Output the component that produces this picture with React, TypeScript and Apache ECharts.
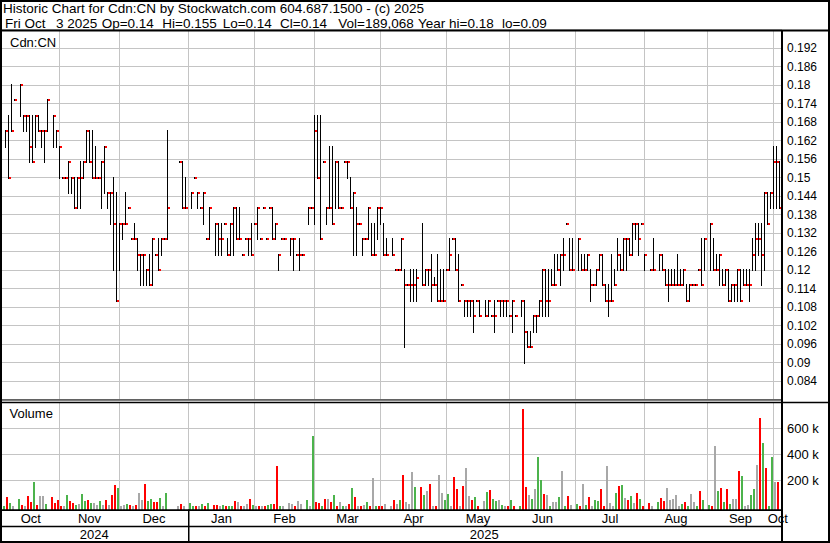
import React, { useEffect, useRef } from "react";
import * as echarts from "echarts";

// ---- axis / category data ----
const BAR_COUNT = 259; // trading days shown
const MONTH_LABELS = ["Oct", "Nov", "Dec", "Jan", "Feb", "Mar", "Apr", "May", "Jun", "Jul", "Aug", "Sep", "Oct"];
const MONTH_START = [0, 18, 38, 61, 83, 103, 125, 147, 168, 190, 213, 234, 256];
const YEAR_LABELS = ["2024", "2025"];
const YEAR_START = [0, 61];
const PRICE_TICK_LABELS = ["0.084", "0.09", "0.096", "0.102", "0.108", "0.114", "0.12", "0.126", "0.132", "0.138", "0.144", "0.15", "0.156", "0.162", "0.168", "0.174", "0.18", "0.186", "0.192"];
const VOLUME_TICK_LABELS = ["200 k", "400 k", "600 k"];

// ---- price data, in thousandths of a dollar (null = no trade) ----
const HIGH_MILLS = [
  165, 170, 180, 175, null, 180, 170, 170, 170, 170,
  170, 170, 165, 165, 175, null, 170, 165, 160, 150,
  150, 155, 150, 150, 150, 155, 155, 165, 165, 165,
  160, 150, 155, 160, 145, 145, 150, 145, 135, 135,
  145, 140, 130, 135, 130, 125, 125, 120, 125, 130,
  125, 130, 130, 130, 165, null, null, null, 155, 155,
  150, null, 145, 150, 145, 140, 145, 130, 140, null,
  135, 135, 135, 135, 130, 135, 140, 140, 140, 125,
  130, 130, 135, 135, 140, 130, 140, 130, 140, 140,
  135, 125, 130, 130, null, 130, 130, 125, 130, 125,
  null, 140, 140, 170, 170, 170, 155, 140, 160, 160,
  155, 155, 140, 155, 155, 150, 145, 140, 135, 130,
  130, 140, 135, 135, 140, 140, 135, 130, null, 130,
  120, 120, 130, 120, 115, 120, 120, 120, null, 135,
  120, 120, 125, 117.5, 125, 120, 120, 120, 130, 130,
  130, 125, 115, 110, 110, 110, 110, 110, 110, null,
  110, 110, 105, 110, 110, 110, 110, 110, 105, 110,
  105, null, 110, 110, 100, 100, 105, 105, 110, 120,
  120, 120, 120, 125, 125, 125, 130, 135, 130, 130,
  null, 130, 125, 125, 125, 120, 115, 120, 125, 125,
  115, 115, 125, 120, 130, 125, 130, 130, 130, 135,
  135, 135, 135, 125, null, 120, 130, null, 125, 125,
  120, 120, 120, 120, 125, 120, 120, 115, 115, 115,
  115, 120, 130, 130, null, 135, 130, 125, 125, 120,
  120, 120, 115, 115, 120, 120, 120, 120, 120, 130,
  135, 135, 135, 145, 145, 145, 160, 160, 155,
];
const LOW_MILLS = [
  160, 150, 165, 175, null, 170, 165, 165, 155, 155,
  160, 165, 160, 155, 165, null, 160, 160, 150, 150,
  150, 145, 145, 140, 140, 140, 150, 155, 155, 150,
  150, 150, 140, 145, 140, 135, 120, 110, 120, 130,
  135, 140, 130, 130, 120, 115, 115, 115, 115, 115,
  125, 120, 125, 130, 130, null, null, null, 155, 140,
  140, null, 140, 150, 140, 140, 135, 130, 130, null,
  125, 125, 125, 135, 125, 125, 125, 130, 130, 125,
  130, 125, 125, 135, 130, 130, 140, 130, 140, 130,
  130, 120, 130, 130, null, 125, 120, 125, 120, 125,
  null, 135, 140, 135, 150, 130, 155, 135, 140, 135,
  140, 140, 140, 155, 150, 140, 125, 125, 135, 125,
  130, 130, 125, 125, 130, 135, 125, 125, null, 125,
  120, 120, 120, 95, 115, 110, 110, 110, null, 115,
  115, 115, 110, 115, 110, 110, 110, 120, 120, 130,
  120, 110, 115, 105, 105, 105, 100, 110, 105, null,
  105, 105, 105, 100, 110, 105, 105, 105, 105, 100,
  105, null, 105, 90, 95, 95, 100, 100, 105, 105,
  105, 105, 115, 115, 120, 115, 120, 135, 120, 120,
  null, 120, 120, 120, 120, 110, 115, 115, 120, 115,
  110, 105, 110, 115, 120, 120, 120, 120, 125, 125,
  130, 125, 135, 120, null, 120, 120, null, 120, 120,
  115, 110, 115, 115, 115, 115, 115, 110, 110, 115,
  115, 120, 115, 120, null, 120, 120, 120, 115, 115,
  115, 110, 110, 110, 110, 110, 115, 115, 110, 120,
  120, 125, 115, 120, 135, 140, 140, 140, 140,
];
const CLOSE_MILLS = [
  165, 150, 165, 175, null, 180, 170, 170, 160, 155,
  170, 165, 165, 165, 175, null, 170, 165, 160, 150,
  150, 155, 150, 140, 150, 150, 155, 165, 155, 150,
  150, 150, 155, 160, 145, 145, 135, 110, 135, 135,
  135, 140, 130, 130, 125, 125, 125, 120, 115, 130,
  125, 120, 130, 130, 140, null, null, null, 155, 140,
  140, null, 145, 150, 145, 140, 145, 130, 140, null,
  135, 130, 130, 135, 125, 135, 140, 130, 130, 125,
  130, 130, 125, 135, 140, 130, 140, 130, 140, 130,
  135, 125, 130, 130, null, 130, 130, 125, 125, 125,
  null, 140, 140, 165, 150, 130, 155, 140, 140, 135,
  155, 140, 140, 155, 155, 140, 145, 135, 135, 130,
  130, 140, 125, 125, 140, 140, 125, 125, null, 125,
  120, 120, 130, 115, 115, 115, 115, 117.5, null, 115,
  120, 120, 115, 115, 110, 110, 110, 120, 125, 130,
  120, 110, 115, 110, 110, 110, 105, 110, 105, null,
  105, 110, 105, 105, 110, 110, 110, 110, 105, 110,
  105, null, 110, 100, 95, 95, 105, 105, 110, 120,
  110, 110, 115, 115, 120, 125, 125, 135, 120, 120,
  null, 130, 120, 120, 125, 115, 115, 120, 125, 115,
  110, 110, 110, 115, 125, 120, 130, 130, 125, 135,
  135, 130, 135, 125, null, 120, 120, null, 125, 120,
  115, 115, 115, 115, 115, 115, 120, 110, 115, 115,
  115, 120, 115, 130, null, 135, 120, 120, 125, 115,
  120, 110, 115, 115, 120, 110, 115, 115, 115, 125,
  130, 130, 125, 145, 135, 145, 155, 155, 140,
];

// ---- volume data, in thousands of shares ----
const VOLUME_K = [
  1, 72, 28, 1, null, 56, 10, 2, 79, 33,
  187, 10, 79, 79, 18, null, 72, 25, 48, 2,
  1, 87, 41, 25, 10, 18, 95, 41, 48, 25,
  25, 10, 41, 10, 48, 10, 87, 164, 141, 2,
  10, 18, 10, 1, 10, 102, 48, 172, 41, 56,
  33, 33, 64, 2, 102, null, null, null, 1, 18,
  1, null, 25, 1, 2, 1, 18, 2, 25, null,
  10, 10, 2, 10, 2, 1, 2, 41, 33, 1,
  1, 18, 56, 10, 1, 1, 1, 1, 10, 18,
  18, 313, 1, 1, null, 25, 18, 1, 41, 18,
  null, 48, 2, 541, 33, 25, 1, 56, 56, 33,
  87, 1, 33, 1, 1, 18, 141, 72, 2, 2,
  10, 33, 1, 218, 1, 1, 1, 18, null, 1,
  48, 18, 48, 241, 33, 18, 264, 148, null, 148,
  87, 118, 172, 1, 1, 241, 102, 48, 95, 1,
  225, 133, 2, 156, 295, 79, 48, 72, 2, null,
  41, 110, 125, 56, 41, 48, 10, 1, 1, 48,
  1, null, 1, 748, 148, 87, 56, 133, 379, 202,
  95, 87, 2, 33, 33, 72, 272, 1, 79, 10,
  null, 18, 1, 172, 10, 72, 1, 48, 41, 133,
  2, 310, 25, 1, 102, 156, 164, 64, 48, 79,
  25, 102, 56, 2, null, 25, 1, null, 33, 64,
  41, 141, 48, 56, 87, 2, 18, 33, 1, 95,
  33, 1, 118, 48, null, 10, 1, 464, 118, 141,
  33, 133, 18, 56, 56, 272, 233, 1, 10, 87,
  133, 318, 682, 487, 295, 1, 379, 187, 189,
];
// u = close up (green), d = close down (red), n = unchanged (grey), . = no trade
const VOLUME_DIR = [
  "udun.udndd", "udnnu.dddd", "nuddunuudu", "nnundnddun", "nudndnnduu",
  "ddunu...nd", "n.uudnudu.", "ddnuduudnd", "nndundnduu", "ddun.nndnn",
  ".unuddudnd", "udnundudnd", "nudnuddn.n", "dnudnnnu.d", "undndnnuun",
  "ddndnndud.", "nuduunundu", "d.uddnunuu", "dnunnunudn", ".udnudnuud",
  "dnnnudundu", "ndud.dn.ud", "dnnnnnudun", "nudu.udnud", "udunndunnu",
  "unduduund",
].join("");

const FONT = '"Liberation Sans", Arial, Helvetica, sans-serif';
const VOL_COLORS: Record<string, string> = { u: "#4cb34c", d: "#ff0000", n: "#a8a8a8" };

export default function App() {
  const ref = useRef<HTMLDivElement>(null);

  useEffect(() => {
    if (!ref.current) return;
    const chart = echarts.init(ref.current, undefined, { renderer: "svg" });

    const ohlc: number[][] = [];
    const vols: any[] = [];
    for (let i = 0; i < BAR_COUNT; i++) {
      const h = HIGH_MILLS[i];
      if (h != null) ohlc.push([i, h / 1000, (LOW_MILLS[i] as number) / 1000, (CLOSE_MILLS[i] as number) / 1000]);
      const v = VOLUME_K[i];
      if (v != null) vols.push({ value: [i, v * 1000], dir: VOLUME_DIR[i] });
    }
    const monthGrid = MONTH_START.slice(1).map((s) => [s, 0]);
    const monthItems = MONTH_START.map((s, k) => [s, k]);
    const yearItems = YEAR_START.map((s, k) => [s, k]);

    const gridLineSeries = (axis: number, extra: number) => ({
      type: "custom",
      xAxisIndex: axis,
      yAxisIndex: axis,
      silent: true,
      clip: false,
      z: 1,
      data: monthGrid,
      renderItem: (params: any, api: any) => {
        const cs = params.coordSys;
        const x = Math.round(api.coord([api.value(0), 0])[0] - 0.5) + 0.5;
        return {
          type: "line",
          shape: { x1: x, y1: cs.y, x2: x, y2: cs.y + cs.height + extra },
          style: { stroke: "#c4c4c4", lineWidth: 1 },
        };
      },
    });

    const option: any = {
      animation: false,
      backgroundColor: "#ffffff",
      textStyle: { fontFamily: FONT },
      grid: [
        { left: 2, top: 29.5, width: 780, height: 370 },
        { left: 2, top: 402.5, width: 780, height: 104 },
      ],
      xAxis: [0, 1].map((g) => ({
        type: "value",
        gridIndex: g,
        min: -7 / 6,
        max: 258 + 5 / 6,
        show: false,
      })),
      yAxis: [
        {
          type: "value",
          gridIndex: 0,
          position: "right",
          min: 0.078,
          max: 0.198,
          interval: 0.006,
          axisLine: { show: false },
          axisTick: { show: false },
          splitLine: { show: true, lineStyle: { color: "#c4c4c4", width: 1 } },
          axisLabel: {
            margin: 5,
            fontSize: 12,
            color: "#000",
            fontFamily: FONT,
            formatter: (v: number) => {
              const s = String(parseFloat(v.toFixed(3)));
              return PRICE_TICK_LABELS.includes(s) ? s : "";
            },
          },
        },
        {
          type: "value",
          gridIndex: 1,
          position: "right",
          min: 0,
          max: 800000,
          interval: 200000,
          axisLine: { show: false },
          axisTick: { show: false },
          splitLine: { show: true, showMinLine: false, showMaxLine: false, lineStyle: { color: "#c4c4c4", width: 1 } },
          axisLabel: {
            margin: 5,
            fontSize: 13,
            color: "#000",
            fontFamily: FONT,
            formatter: (v: number) => {
              const s = Math.round(v / 1000) + " k";
              return VOLUME_TICK_LABELS.includes(s) ? s : "";
            },
          },
        },
      ],
      series: [
        gridLineSeries(0, 0),
        gridLineSeries(1, 3),
        {
          type: "custom",
          name: "Cdn:CN",
          xAxisIndex: 0,
          yAxisIndex: 0,
          silent: true,
          clip: false,
          z: 3,
          data: ohlc,
          renderItem: (_p: any, api: any) => {
            const i = api.value(0);
            const top = api.coord([i, api.value(1)]);
            const low = api.coord([i, api.value(2)]);
            const cl = api.coord([i, api.value(3)]);
            const x = Math.round(top[0] - 0.5);
            const yTop = Math.round(top[1]) - 1;
            const yLow = Math.round(low[1]) + 1;
            const yC = Math.round(cl[1]) - 1;
            return {
              type: "group",
              children: [
                {
                  type: "rect",
                  shape: { x, y: yTop, width: 1, height: Math.max(1, yLow - yTop) },
                  style: { fill: "#000" },
                },
                {
                  type: "rect",
                  shape: { x: x + 1, y: yC, width: 2, height: 2 },
                  style: { fill: "#ff0000" },
                },
              ],
            };
          },
        },
        {
          type: "custom",
          name: "Volume",
          xAxisIndex: 1,
          yAxisIndex: 1,
          silent: true,
          clip: false,
          z: 3,
          data: vols,
          renderItem: (params: any, api: any) => {
            const i = api.value(0);
            const p = api.coord([i, api.value(1)]);
            const base = api.coord([i, 0]);
            const x = Math.round(p[0] - 0.5) - 2;
            const yTop = Math.round(p[1]);
            const yBase = Math.round(base[1] + 3);
            const dir = vols[params.dataIndex].dir;
            return {
              type: "rect",
              shape: { x, y: yTop, width: 2, height: Math.max(1, yBase - yTop) },
              style: { fill: VOL_COLORS[dir] || "#a8a8a8" },
            };
          },
        },
        {
          type: "custom",
          xAxisIndex: 1,
          yAxisIndex: 1,
          silent: true,
          clip: false,
          z: 4,
          data: monthItems,
          renderItem: (params: any, api: any) => {
            const cs = params.coordSys;
            const k = api.value(1);
            const x0 = k === 0 ? cs.x : api.coord([MONTH_START[k], 0])[0];
            const x1 = k === MONTH_START.length - 1 ? cs.x + cs.width : api.coord([MONTH_START[k + 1], 0])[0];
            return {
              type: "text",
              x: (x0 + x1) / 2,
              y: cs.y + cs.height + 12,
              style: { text: MONTH_LABELS[k], fill: "#000", font: "13px " + FONT, align: "center", verticalAlign: "middle" },
            };
          },
        },
        {
          type: "custom",
          xAxisIndex: 1,
          yAxisIndex: 1,
          silent: true,
          clip: false,
          z: 4,
          data: yearItems,
          renderItem: (params: any, api: any) => {
            const cs = params.coordSys;
            const k = api.value(1);
            const x0 = k === 0 ? cs.x : api.coord([YEAR_START[k], 0])[0];
            const x1 = k === YEAR_START.length - 1 ? cs.x + cs.width : api.coord([YEAR_START[k + 1], 0])[0];
            const children: any[] = [
              {
                type: "text",
                x: (x0 + x1) / 2 - 1,
                y: cs.y + cs.height + 28,
                style: { text: YEAR_LABELS[k], fill: "#000", font: "13px " + FONT, align: "center", verticalAlign: "middle" },
              },
            ];
            if (k > 0) {
              const xs = Math.round(x0 - 0.5);
              children.push({
                type: "rect",
                shape: { x: xs, y: cs.y + cs.height + 3, width: 1.5, height: 32 },
                style: { fill: "#000" },
              });
            }
            return { type: "group", children };
          },
        },
      ],
      graphic: [
        // frame and pane separators
        { type: "rect", z: 10, silent: true, shape: { x: 1, y: 1, width: 828, height: 541 }, style: { fill: "none", stroke: "#000", lineWidth: 2 } },
        { type: "rect", z: 10, silent: true, shape: { x: 0, y: 29.5, width: 830, height: 2 }, style: { fill: "#000" } },
        { type: "rect", z: 10, silent: true, shape: { x: 781, y: 30, width: 2, height: 513 }, style: { fill: "#000" } },
        { type: "rect", z: 10, silent: true, shape: { x: 0, y: 399.5, width: 782, height: 1 }, style: { fill: "#000" } },
        { type: "rect", z: 10, silent: true, shape: { x: 0, y: 401.7, width: 830, height: 1.6 }, style: { fill: "#000" } },
        { type: "rect", z: 10, silent: true, shape: { x: 0, y: 509.3, width: 782, height: 1.7 }, style: { fill: "#000" } },
        { type: "rect", z: 10, silent: true, shape: { x: 0, y: 525.7, width: 782, height: 1.6 }, style: { fill: "#000" } },
        // header
        { type: "text", z: 10, x: 3, y: 8.5, style: { text: "Historic Chart for Cdn:CN by Stockwatch.com 604.687.1500 - (c) 2025", fill: "#000", font: "13.5px " + FONT, verticalAlign: "middle" } },
        { type: "text", z: 10, x: 5, y: 23, style: { text: "Fri Oct", fill: "#000", font: "13.5px " + FONT, verticalAlign: "middle" } },
        { type: "text", z: 10, x: 56, y: 23, style: { text: "3 2025", fill: "#000", font: "13.5px " + FONT, verticalAlign: "middle" } },
        { type: "text", z: 10, x: 101.7, y: 23, style: { text: "Op=0.14", fill: "#000", font: "13.5px " + FONT, verticalAlign: "middle" } },
        { type: "text", z: 10, x: 162.3, y: 23, style: { text: "Hi=0.155", fill: "#000", font: "13.5px " + FONT, verticalAlign: "middle" } },
        { type: "text", z: 10, x: 222.7, y: 23, style: { text: "Lo=0.14", fill: "#000", font: "13.5px " + FONT, verticalAlign: "middle" } },
        { type: "text", z: 10, x: 280, y: 23, style: { text: "Cl=0.14", fill: "#000", font: "13.5px " + FONT, verticalAlign: "middle" } },
        { type: "text", z: 10, x: 338.3, y: 23, style: { text: "Vol=189,068", fill: "#000", font: "13.5px " + FONT, verticalAlign: "middle" } },
        { type: "text", z: 10, x: 418, y: 23, style: { text: "Year hi=0.18", fill: "#000", font: "13.5px " + FONT, verticalAlign: "middle" } },
        { type: "text", z: 10, x: 502, y: 23, style: { text: "lo=0.09", fill: "#000", font: "13.5px " + FONT, verticalAlign: "middle" } },
        // pane titles
        { type: "text", z: 10, x: 10, y: 42.5, style: { text: "Cdn:CN", fill: "#000", font: "13px " + FONT, verticalAlign: "middle" } },
        { type: "text", z: 10, x: 9.5, y: 413.5, style: { text: "Volume", fill: "#000", font: "13px " + FONT, verticalAlign: "middle" } },
      ],
    };

    chart.setOption(option);
    return () => chart.dispose();
  }, []);

  return (
    <div
      ref={ref}
      style={{ position: "absolute", left: 0, top: 0, width: 830, height: 543, background: "#fff" }}
    />
  );
}
